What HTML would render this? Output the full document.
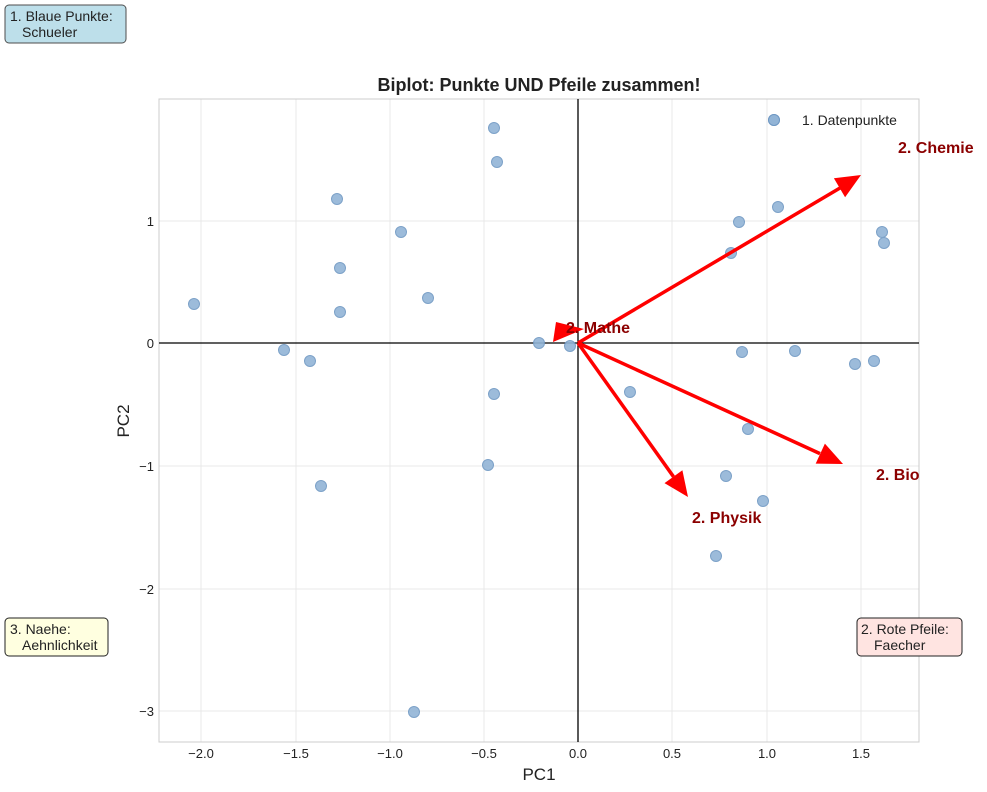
<!DOCTYPE html><html><head><meta charset="utf-8"><style>body{margin:0;background:#fff}svg{display:block;font-family:"Liberation Sans",sans-serif}</style></head><body>
<svg width="987" height="792" viewBox="0 0 987 792">
<g stroke="#e8e8e8" stroke-width="1">
<line x1="201" y1="99" x2="201" y2="742"/><line x1="296" y1="99" x2="296" y2="742"/><line x1="390" y1="99" x2="390" y2="742"/><line x1="484" y1="99" x2="484" y2="742"/><line x1="672" y1="99" x2="672" y2="742"/><line x1="767" y1="99" x2="767" y2="742"/><line x1="861" y1="99" x2="861" y2="742"/>
<line x1="159" y1="221" x2="919" y2="221"/><line x1="159" y1="466" x2="919" y2="466"/><line x1="159" y1="589" x2="919" y2="589"/><line x1="159" y1="711" x2="919" y2="711"/>
</g>
<rect x="159" y="99" width="760" height="643" fill="none" stroke="#ccc"/>
<line x1="159" y1="343" x2="919" y2="343" stroke="#000" stroke-width="1.3"/>
<line x1="578" y1="99" x2="578" y2="742" stroke="#000" stroke-width="1.3"/>
<g fill="#92b4d6" stroke="#6f98c3" stroke-width="1" opacity="0.9">
<circle cx="494" cy="128" r="5.5"/><circle cx="497" cy="162" r="5.5"/><circle cx="337" cy="199" r="5.5"/><circle cx="401" cy="232" r="5.5"/><circle cx="340" cy="268" r="5.5"/><circle cx="428" cy="298" r="5.5"/><circle cx="340" cy="312" r="5.5"/><circle cx="194" cy="304" r="5.5"/><circle cx="284" cy="350" r="5.5"/><circle cx="310" cy="361" r="5.5"/><circle cx="539" cy="343" r="5.5"/><circle cx="570" cy="346" r="5.5"/><circle cx="494" cy="394" r="5.5"/><circle cx="488" cy="465" r="5.5"/><circle cx="321" cy="486" r="5.5"/><circle cx="414" cy="712" r="5.5"/><circle cx="774" cy="120" r="5.5"/><circle cx="739" cy="222" r="5.5"/><circle cx="778" cy="207" r="5.5"/><circle cx="731" cy="253" r="5.5"/><circle cx="882" cy="232" r="5.5"/><circle cx="884" cy="243" r="5.5"/><circle cx="742" cy="352" r="5.5"/><circle cx="795" cy="351" r="5.5"/><circle cx="855" cy="364" r="5.5"/><circle cx="874" cy="361" r="5.5"/><circle cx="630" cy="392" r="5.5"/><circle cx="748" cy="429" r="5.5"/><circle cx="726" cy="476" r="5.5"/><circle cx="763" cy="501" r="5.5"/><circle cx="716" cy="556" r="5.5"/>
</g>
<g stroke="#f00" stroke-width="3.5">
<line x1="578" y1="343" x2="840" y2="188"/><line x1="578" y1="343" x2="820" y2="453.6"/><line x1="578" y1="343" x2="673.5" y2="476.7"/>
</g>
<g fill="#f00">
<polygon points="861,175 845.1,197.2 833.9,178.3"/>
<polygon points="553,342 556,322 584,329"/>
<polygon points="843,464 815.7,463.6 824.9,443.6"/>
<polygon points="688,497 664.5,483.1 682.4,470.3"/>
</g>
<g fill="#8b0000" font-weight="bold" font-size="16">
<text x="898" y="153">2. Chemie</text><text x="566" y="333">2. Mathe</text><text x="876" y="480">2. Bio</text><text x="692" y="523">2. Physik</text>
</g>
<text x="539" y="91" font-size="18" font-weight="bold" text-anchor="middle" fill="#222">Biplot: Punkte UND Pfeile zusammen!</text>
<g font-size="13" fill="#222" text-anchor="middle">
<text x="201" y="758">−2.0</text><text x="296" y="758">−1.5</text><text x="390" y="758">−1.0</text><text x="484" y="758">−0.5</text><text x="578" y="758">0.0</text><text x="672" y="758">0.5</text><text x="767" y="758">1.0</text><text x="861" y="758">1.5</text>
</g>
<g font-size="13" fill="#222" text-anchor="end">
<text x="154" y="226">1</text><text x="154" y="348">0</text><text x="154" y="471">−1</text><text x="154" y="594">−2</text><text x="154" y="716">−3</text>
</g>
<text x="539" y="780" font-size="17" text-anchor="middle" fill="#222">PC1</text>
<text transform="translate(129,421) rotate(-90)" font-size="17" text-anchor="middle" fill="#222">PC2</text>
<circle cx="774" cy="120" r="5.5" fill="#92b4d6" stroke="#6f98c3"/>
<text x="802" y="125" font-size="14" fill="#222">1. Datenpunkte</text>
<rect x="5" y="5" width="121" height="38" rx="4" fill="#add8e6" stroke="#222" opacity="0.8"/>
<text x="10" y="21" font-size="14" fill="#222">1. Blaue Punkte:</text><text x="22" y="37" font-size="14" fill="#222">Schueler</text>
<rect x="5" y="618" width="103" height="38" rx="4" fill="#ffffe0" stroke="#222"/>
<text x="10" y="634" font-size="14" fill="#222">3. Naehe:</text><text x="22" y="650" font-size="14" fill="#222">Aehnlichkeit</text>
<rect x="857" y="618" width="105" height="38" rx="4" fill="#ffe4e1" stroke="#222"/>
<text x="861" y="634" font-size="14" fill="#222">2. Rote Pfeile:</text><text x="874" y="650" font-size="14" fill="#222">Faecher</text>
</svg></body></html>
